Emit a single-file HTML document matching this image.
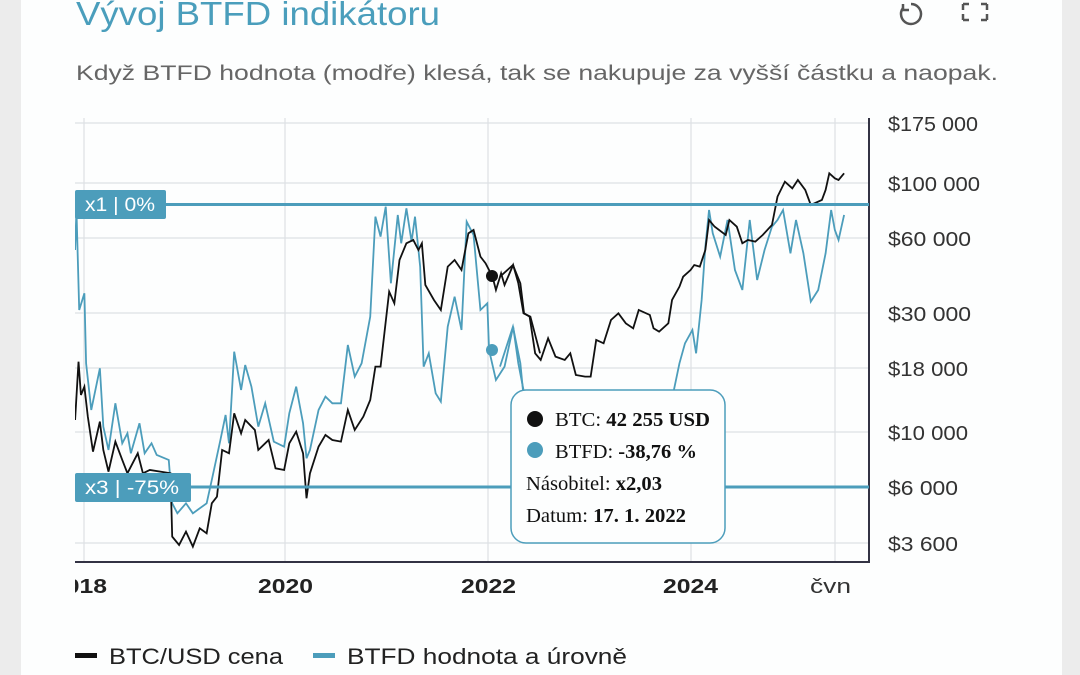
<!DOCTYPE html>
<html><head><meta charset="utf-8"><style>
body{margin:0;width:1080px;height:675px;background:#ececec;overflow:hidden;font-family:"Liberation Sans",sans-serif}
.card{position:absolute;left:21px;top:0;width:1041px;height:675px;background:#fdfefe}
</style></head><body>
<div class="card"></div>
<svg width="1080" height="675" style="position:absolute;left:0;top:0" xmlns="http://www.w3.org/2000/svg">
<defs><clipPath id="c"><rect x="75" y="115" width="795" height="447"/></clipPath>
<clipPath id="t"><rect x="75" y="570" width="900" height="40"/></clipPath></defs>
<text x="76" y="25" font-size="33" fill="#4a9ebc" textLength="364" lengthAdjust="spacingAndGlyphs">Vývoj BTFD indikátoru</text>
<g fill="none" stroke="#555" stroke-width="2.5">
<path d="M903 8 a10 10 0 1 0 8 -4"/><path d="M903 4 v6 h6"/>
<path d="M963 4 v6 M963 4 h6 M987 4 v6 M987 4 h-6 M963 20 v-6 M963 20 h6 M987 20 v-6 M987 20 h-6"/>
</g>
<text x="76" y="80" font-size="21" fill="#666" textLength="922" lengthAdjust="spacingAndGlyphs">Když BTFD hodnota (modře) klesá, tak se nakupuje za vyšší částku a naopak.</text>
<g stroke="#dde1e4" stroke-width="1.2">
<line x1="75" x2="870" y1="123" y2="123"/><line x1="75" x2="870" y1="183" y2="183"/>
<line x1="75" x2="870" y1="238" y2="238"/><line x1="75" x2="870" y1="313" y2="313"/>
<line x1="75" x2="870" y1="368" y2="368"/><line x1="75" x2="870" y1="432" y2="432"/>
<line x1="75" x2="870" y1="487" y2="487"/><line x1="75" x2="870" y1="543" y2="543"/>
<line x1="84" x2="84" y1="118" y2="562"/><line x1="285" x2="285" y1="118" y2="562"/>
<line x1="488" x2="488" y1="118" y2="562"/><line x1="691" x2="691" y1="118" y2="562"/>
<line x1="835" x2="835" y1="118" y2="562"/>
</g>
<line x1="75" x2="870" y1="562" y2="562" stroke="#334" stroke-width="2"/>
<line x1="869" x2="869" y1="118" y2="563" stroke="#334" stroke-width="2"/>
<g font-size="20" fill="#333" lengthAdjust="spacingAndGlyphs">
<text x="888" y="131" textLength="90" lengthAdjust="spacingAndGlyphs">$175 000</text><text x="888" y="191" textLength="92" lengthAdjust="spacingAndGlyphs">$100 000</text><text x="888" y="246" textLength="83" lengthAdjust="spacingAndGlyphs">$60 000</text>
<text x="888" y="321" textLength="83" lengthAdjust="spacingAndGlyphs">$30 000</text><text x="888" y="376" textLength="80" lengthAdjust="spacingAndGlyphs">$18 000</text><text x="888" y="440" textLength="80" lengthAdjust="spacingAndGlyphs">$10 000</text>
<text x="888" y="495" textLength="70" lengthAdjust="spacingAndGlyphs">$6 000</text><text x="888" y="551" textLength="70" lengthAdjust="spacingAndGlyphs">$3 600</text>
</g>
<g font-size="20" font-weight="bold" fill="#222" clip-path="url(#t)">
<text x="52" y="593" textLength="55" lengthAdjust="spacingAndGlyphs">2018</text><text x="258" y="593" textLength="55" lengthAdjust="spacingAndGlyphs">2020</text><text x="461" y="593" textLength="55" lengthAdjust="spacingAndGlyphs">2022</text><text x="663" y="593" textLength="55" lengthAdjust="spacingAndGlyphs">2024</text>
</g>
<text x="810" y="593" font-size="20" fill="#333" textLength="41" lengthAdjust="spacingAndGlyphs">čvn</text>
<g clip-path="url(#c)">
<g transform="translate(0,110) scale(0.3444,0.3333)" fill="none" stroke-width="1.8">
<polyline vector-effect="non-scaling-stroke" stroke="#4c9dbb" points="218,420 222,300 230,600 245,550 250,760 265,900 290,775 300,950 315,1020 335,880 355,1000 370,970 380,1030 405,940 420,1030 440,1000 455,1035 490,1050 500,1180 515,1210 540,1180 560,1210 600,1180 615,1110 640,990 655,915 665,1000 680,725 700,840 712,765 730,830 750,950 770,880 795,995 825,1010 840,910 860,830 880,940 890,1045 900,1020 925,900 945,860 965,880 990,880 1010,705 1030,800 1050,760 1075,620 1090,320 1105,380 1120,290 1135,520 1155,315 1165,400 1180,295 1195,395 1205,320 1220,470 1230,770 1245,730 1265,850 1280,875 1300,650 1320,560 1340,660 1355,335 1375,375 1395,600 1415,580 1420,720 1440,810 1465,770 1490,650 1505,760 1520,840 1530,880"/>
<polyline vector-effect="non-scaling-stroke" stroke="#111" points="218,930 228,755 235,855 245,830 255,920 270,1025 290,935 300,1020 315,1085 335,995 355,1050 370,1090 400,1030 415,1090 435,1080 495,1090 500,1280 520,1305 540,1265 560,1310 580,1255 600,1270 615,1180 630,1160 645,1020 665,1030 680,910 700,970 712,930 740,960 750,1020 770,1000 780,990 800,1075 825,1080 840,1000 860,965 880,1030 890,1165 900,1090 925,1010 945,975 965,990 990,995 1010,900 1030,960 1055,920 1075,870 1090,770 1105,770 1130,545 1145,580 1160,450 1180,400 1200,390 1215,420 1225,400 1235,525 1260,570 1280,600 1300,470 1320,450 1340,480 1360,370 1375,360 1395,440 1410,460 1430,500 1440,540 1455,490 1465,525 1490,465 1505,520 1520,610 1540,620 1568,730"/>
</g>
<g transform="translate(500,110) scale(0.37,0.3333)" fill="none" stroke-width="1.8">
<polyline vector-effect="non-scaling-stroke" stroke="#4c9dbb" points="0,770 35,650 55,760 62,840 200,1000 400,950 470,840 485,760 500,700 520,660 530,730 545,570 555,410 565,300 575,370 595,440 615,330 635,480 655,540 675,330 695,510 715,420 735,350 750,330 765,300 785,430 800,330 820,430 840,575 860,540 880,430 895,300 905,360 915,390 930,315"/>
<polyline vector-effect="non-scaling-stroke" stroke="#111" points="0,500 35,465 55,520 65,610 80,620 95,730 110,750 130,685 150,740 175,750 190,730 205,795 230,800 245,800 260,690 280,700 300,630 320,610 340,640 360,655 375,600 405,615 415,655 430,665 455,640 465,570 485,530 495,500 515,480 525,465 540,470 555,420 565,330 580,350 610,375 620,330 640,350 655,400 670,390 690,395 710,375 735,345 750,260 770,215 790,235 805,210 825,240 840,285 870,270 880,240 890,190 905,205 915,210 930,190"/>
</g>
</g>
<line x1="75" x2="869" y1="204.5" y2="204.5" stroke="#4c9dbb" stroke-width="3"/>
<line x1="75" x2="869" y1="487" y2="487" stroke="#4c9dbb" stroke-width="3"/>
<rect x="75" y="190" width="91" height="29" rx="2" fill="#4c9dbb"/>
<text x="85" y="211" font-size="19" fill="#fff" textLength="70" lengthAdjust="spacingAndGlyphs">x1 | 0%</text>
<rect x="75" y="473" width="116" height="29" rx="2" fill="#4c9dbb"/>
<text x="85" y="494" font-size="19" fill="#fff" textLength="94" lengthAdjust="spacingAndGlyphs">x3 | -75%</text>
<circle cx="492" cy="276" r="6" fill="#111"/>
<circle cx="492" cy="350" r="6" fill="#4c9dbb"/>
<rect x="511" y="390" width="214" height="153" rx="15" fill="#fdfefe" stroke="#4c9dbb" stroke-width="1.5"/>
<g font-family="Liberation Serif,serif" font-size="20" fill="#111">
<circle cx="535" cy="419" r="8" fill="#111"/><text x="555" y="426" textLength="155" lengthAdjust="spacingAndGlyphs">BTC: <tspan font-weight="bold">42 255 USD</tspan></text>
<circle cx="535" cy="450" r="8" fill="#4c9dbb"/><text x="555" y="458" textLength="142" lengthAdjust="spacingAndGlyphs">BTFD: <tspan font-weight="bold">-38,76 %</tspan></text>
<text x="526" y="490" textLength="136" lengthAdjust="spacingAndGlyphs">Násobitel: <tspan font-weight="bold">x2,03</tspan></text>
<text x="526" y="522" textLength="160" lengthAdjust="spacingAndGlyphs">Datum: <tspan font-weight="bold">17. 1. 2022</tspan></text>
</g>
<rect x="75" y="653" width="22" height="5" fill="#111"/>
<text x="109" y="664" font-size="22" fill="#222" textLength="174" lengthAdjust="spacingAndGlyphs">BTC/USD cena</text>
<rect x="313" y="653" width="22" height="5" fill="#4c9dbb"/>
<text x="347" y="664" font-size="22" fill="#222" textLength="280" lengthAdjust="spacingAndGlyphs">BTFD hodnota a úrovně</text>
</svg>
</body></html>
